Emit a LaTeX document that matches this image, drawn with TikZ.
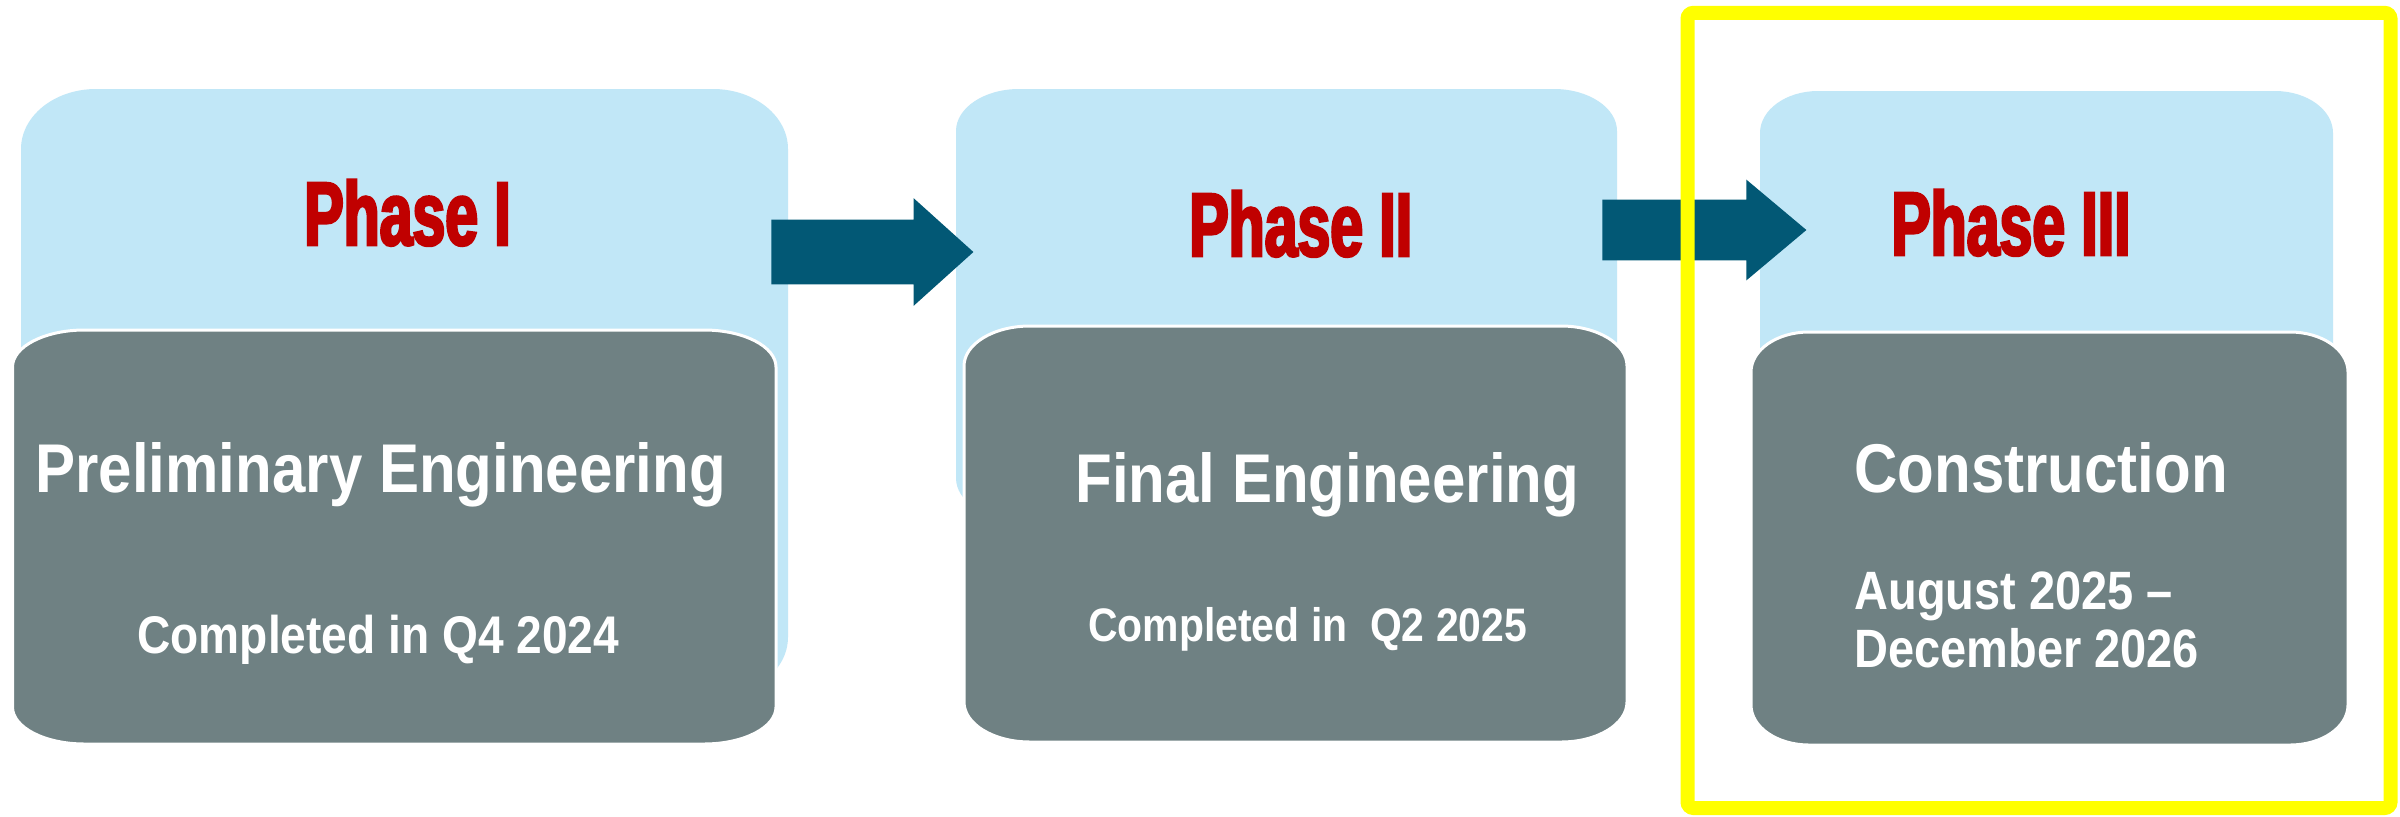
\documentclass[tikz,border=0pt]{standalone}
\usepackage{fontspec}
\setmainfont{Liberation Sans}
\newfontfamily\titlefont[FakeStretch=0.87]{Liberation Sans}
\newfontfamily\phasefont[FakeStretch=0.655,FakeBold=3]{Liberation Sans}
\usetikzlibrary{shapes.arrows}
\definecolor{lightbox}{HTML}{C1E7F7}
\definecolor{graybox}{HTML}{6F8183}
\definecolor{arrowblue}{HTML}{025875}
\definecolor{phasered}{HTML}{C00000}
\definecolor{frameyellow}{HTML}{FFFF00}
\newcommand\ebox[7]{%
  \pgfmathsetmacro\ka{0.448*#6}%
  \pgfmathsetmacro\kb{0.448*#7}%
  \path[#1] (#2+#6,#3) -- (#4-#6,#3) .. controls (#4-\ka,#3) and (#4,#3+\kb) .. (#4,#3+#7)
    -- (#4,#5-#7) .. controls (#4,#5-\kb) and (#4-\ka,#5) .. (#4-#6,#5)
    -- (#2+#6,#5) .. controls (#2+\ka,#5) and (#2,#5-\kb) .. (#2,#5-#7)
    -- (#2,#3+#7) .. controls (#2,#3+\kb) and (#2+\ka,#3) .. (#2+#6,#3) -- cycle;}
\tikzset{
  lightshape/.style={fill=lightbox},
  grayshape/.style={fill=graybox, draw=white, line width=1.5pt},
  blockarrow/.style={single arrow, fill=arrowblue, inner sep=0pt, text depth=0pt,
    single arrow head indent=0pt, anchor=tail},
  phasetext/.style={inner sep=0pt, anchor=base west, text=phasered,
    font=\phasefont\bfseries\fontsize{45pt}{45pt}\selectfont},
  titletext/.style={inner sep=0pt, anchor=base west, text=white,
    font=\titlefont\bfseries\fontsize{34.5pt}{40pt}\selectfont},
  datetext/.style={inner sep=0pt, anchor=base west, text=white, align=left},
  frame/.style={draw=frameyellow, line width=7pt, rounded corners=3pt}
}
\begin{document}
\begin{tikzpicture}[x=0.5pt,y=-0.5pt]
\useasboundingbox[fill=white] (0,0) rectangle (2400,816);
% light blue phase boxes
\ebox{lightshape}{21}{89}{788}{697}{75}{60}
\ebox{lightshape}{956}{89}{1617}{520}{63}{42}
\ebox{lightshape}{1760}{91}{2333}{500}{58}{42}
% gray description boxes
\ebox{grayshape}{12.5}{330}{776}{744}{72}{37}
\ebox{grayshape}{964}{326}{1627}{742}{66}{40}
\ebox{grayshape}{1751}{332}{2348}{745}{58}{40}
% block arrows
\node[blockarrow, text height=32pt, minimum height=101pt,
  single arrow head extend=10.75pt, single arrow tip angle=84] (arr1) at (771,252) {};
\node[blockarrow, text height=30pt, minimum height=102pt,
  single arrow head extend=10pt, single arrow tip angle=80] (arr2) at (1602,230) {};
% phase labels
\node[phasetext] (ph1) at (304,245) {Phase I};
\node[phasetext] (ph2) at (1189,256) {Phase II};
\node[phasetext] (ph3) at (1891,255) {Phase III};
% titles
\node[titletext] (t1) at (35,492) {Preliminary Engineering};
\node[titletext] (t2) at (1075,502) {Final Engineering};
\node[titletext] (t3) at (1854,492) {Construction};
% dates
\node[datetext, font=\titlefont\bfseries\fontsize{26.5pt}{30pt}\selectfont] (d1) at (137,653) {Completed in Q4 2024};
\node[datetext, font=\titlefont\bfseries\fontsize{23.5pt}{28pt}\selectfont] (d2) at (1088,641) {Completed in\ \ Q2 2025};
\node[datetext, font=\titlefont\bfseries\fontsize{27pt}{29pt}\selectfont] (d3) at (1854,667) {August 2025 –\\December 2026};
% highlight frame
\draw[frame] (1687.5,12.8) rectangle (2390.5,808);
\end{tikzpicture}
\end{document}
